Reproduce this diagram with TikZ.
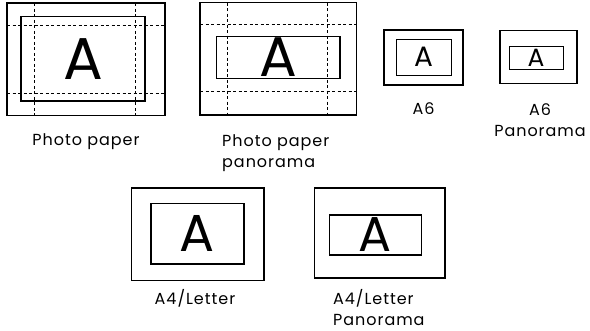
\documentclass[tikz,border=0pt]{standalone}
\usepackage{fontspec}
\setmainfont{Poppins}
\newfontfamily\captionfont[LetterSpace=6]{Poppins}
\usetikzlibrary{positioning}

\begin{document}
\begin{tikzpicture}[x=1pt, y=-1pt,
      sheet/.style={draw, line width=1.6pt, inner sep=0pt},
      printarea/.style={draw, line width=1.2pt, inner sep=0pt},
      cutline/.style={line width=0.7pt, dash pattern=on 3pt off 2.5pt},
      caption/.style={font=\captionfont\fontsize{16}{21}\selectfont, inner sep=0pt}
  ]
    \useasboundingbox (0,0) rectangle (590,331);
    % photo paper
    \node[sheet, minimum width=158pt, minimum height=112.4pt](pp) at (86,59.5){};
    \node[printarea, minimum width=124pt, minimum height=84.3pt, font=\fontsize{59}{59}\selectfont](ppA) at (83,58.8){A};
    \foreach \x in {34.3,135} \draw[cutline] (\x,3.3)--(\x,115.7);
    \foreach \y in {25.3,93.3} \draw[cutline] (7,\y)--(165,\y);
    \node[caption, anchor=base](ppL) at (86,146){Photo paper};
    % photo paper panorama
    \node[sheet, minimum width=156.7pt, minimum height=112.3pt](ppp) at (278.3,58.8){};
    \node[printarea, minimum width=123.3pt, minimum height=41.6pt, font=\fontsize{56}{56}\selectfont](pppA) at (278.3,57.5){A};
    \foreach \x in {227.3,327.7} \draw[cutline] (\x,2.7)--(\x,115);
    \foreach \y in {24.3,91.7} \draw[cutline] (200,\y)--(356.7,\y);
    \node[caption, anchor=base west, align=left](pppL) at (222,168){Photo paper\\panorama};
    % A6
    \node[sheet, line width=1.2pt, minimum width=79pt, minimum height=55pt](a6) at (423.5,57.5){};
    \node[printarea, line width=1pt, minimum width=55pt, minimum height=35.7pt, font=\fontsize{28}{28}\selectfont](a6A) at (423.5,57.2){A};
    \node[caption, anchor=base](a6L) at (423.5,115){A6};
    % A6 panorama
    \node[sheet, line width=1.2pt, minimum width=77pt, minimum height=52.6pt](a6p) at (538.5,57){};
    \node[printarea, line width=1pt, minimum width=54pt, minimum height=23.3pt, font=\fontsize{25}{25}\selectfont](a6pA) at (536,57.7){A};
    \node[caption, anchor=base, align=center](a6pL) at (540,136.5){A6\\Panorama};
    % A4/Letter
    \node[sheet, minimum width=132.3pt, minimum height=92.4pt](a4) at (197.8,234.5){};
    \node[printarea, minimum width=93pt, minimum height=60.7pt, font=\fontsize{52}{52}\selectfont](a4A) at (197.5,233.7){A};
    \node[caption, anchor=base](a4L) at (195,305){A4/Letter};
    % A4/Letter panorama
    \node[sheet, minimum width=130.7pt, minimum height=90pt](a4p) at (379.7,233.3){};
    \node[printarea, minimum width=92.4pt, minimum height=40pt, font=\fontsize{49}{49}\selectfont](a4pA) at (375.5,235){A};
    \node[caption, anchor=base west, align=left](a4pL) at (333,325.5){A4/Letter\\Panorama};
  \end{tikzpicture}
\end{document}
